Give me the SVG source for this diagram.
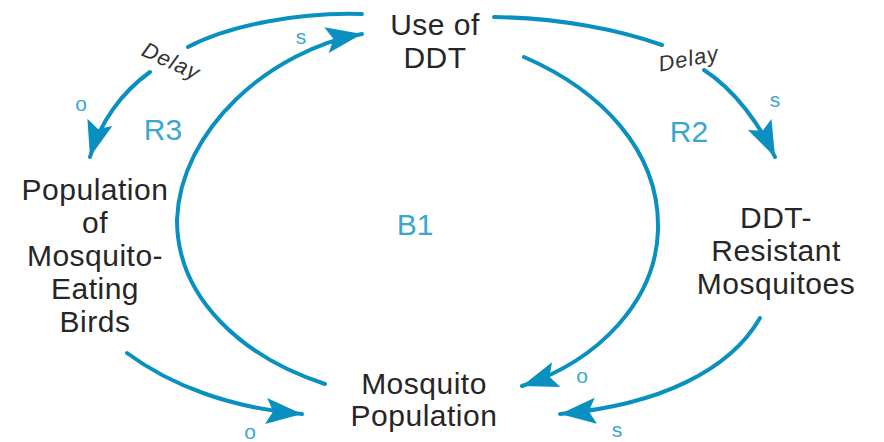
<svg xmlns="http://www.w3.org/2000/svg" width="884" height="442" viewBox="0 0 884 442">
<style>
.n{font-family:"Liberation Sans",Arial,sans-serif;font-size:30px;fill:#262626;text-anchor:middle;letter-spacing:0.5px}
.loop{font-family:"Liberation Sans",Arial,sans-serif;font-size:30px;fill:#3aa6d2;text-anchor:middle}
.sign{font-family:"Liberation Sans",Arial,sans-serif;font-size:21px;fill:#3aa6d2;text-anchor:middle;dominant-baseline:central}
.delay{font-family:"Liberation Sans",Arial,sans-serif;font-size:22px;font-style:italic;fill:#333;text-anchor:middle;letter-spacing:1px}
.c{fill:none;stroke:#0a90c0;stroke-width:4;stroke-linecap:round;marker-end:url(#ah)}
</style>
<defs>
<marker id="ah" markerUnits="userSpaceOnUse" markerWidth="44" markerHeight="34" viewBox="-40 -17 44 34" refX="0" refY="0" orient="auto">
<path d="M0,0 L-36,-13 L-29,0 L-36,13 Z" fill="#0a90c0"/>
</marker>
</defs>
<rect width="884" height="442" fill="#ffffff"/>
<g id="connectors">
<path id="c1" class="c" d="M362,14 C300,12 230,25 188,47 M150,72 C122,92 100,122 90,157"/>
<path id="c2" class="c" d="M127,353 C170,385 230,408 302,414"/>
<path id="c3" class="c" d="M325,384 C245,358 177,300 177,220 C180,130 270,50 362,34"/>
<path id="c4" class="c" d="M524,57 C600,90 660,150 658,230 C656,300 600,360 522,386"/>
<path id="c5" class="c" d="M494,17 C560,18 620,30 662,45 M704,70 C735,90 760,125 775,157"/>
<path id="c6" class="c" d="M760,318 C730,370 660,405 560,414"/>
<text class="delay" transform="translate(168,68) rotate(25)">Delay</text>
<text class="delay" transform="translate(690,66) rotate(-11)">Delay</text>
<text class="sign" x="301" y="36">s</text>
<text class="sign" x="81" y="103">o</text>
<text class="sign" x="250" y="431">o</text>
<text class="sign" x="582" y="375">o</text>
<text class="sign" x="617" y="429">s</text>
<text class="sign" x="775" y="99">s</text>
</g>
<g id="loops">
<text class="loop" x="163" y="140">R3</text>
<text class="loop" x="689" y="142">R2</text>
<text class="loop" x="415" y="235">B1</text>
</g>
<g id="use-of-ddt">
<text class="n" x="435" y="35">Use of</text>
<text class="n" x="435" y="68">DDT</text>
</g>
<g id="birds">
<text class="n" x="95" y="200">Population</text>
<text class="n" x="95" y="233">of</text>
<text class="n" x="95" y="266">Mosquito-</text>
<text class="n" x="95" y="299">Eating</text>
<text class="n" x="95" y="332">Birds</text>
</g>
<g id="resistant">
<text class="n" x="776" y="228">DDT-</text>
<text class="n" x="776" y="261">Resistant</text>
<text class="n" x="776" y="294">Mosquitoes</text>
</g>
<g id="mosquito-population">
<text class="n" x="424" y="394">Mosquito</text>
<text class="n" x="424" y="426">Population</text>
</g>
</svg>
